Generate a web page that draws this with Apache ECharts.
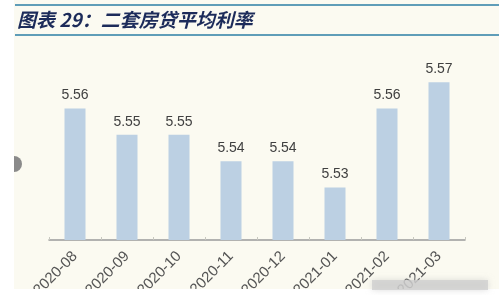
<!DOCTYPE html>
<html>
<head>
<meta charset="utf-8">
<script src="https://cdn.jsdelivr.net/npm/echarts@6/dist/echarts.min.js"></script>
<style>
html,body{margin:0;padding:0;background:#ffffff;}
#c{width:499px;height:295px;}
</style>
</head>
<body>
<div id="c"></div>
<script>
const titleText = '图表 29：二套房贷平均利率';
const categories = ['2020-08','2020-09','2020-10','2020-11','2020-12','2021-01','2021-02','2021-03'];
const rates = [5.56, 5.55, 5.55, 5.54, 5.54, 5.53, 5.56, 5.57];

const chart = echarts.init(document.getElementById('c'), null, {renderer:'canvas'});
chart.setOption({
  animation: false,
  backgroundColor: '#ffffff',
  grid: {left: 49, right: 34, top: 56, bottom: 55, outerBoundsMode: 'none', containLabel: false},
  xAxis: {
    type: 'category',
    data: categories,
    axisLine: {show: true, lineStyle: {color: '#9a9a9a', width: 1.5}},
    axisTick: {show: true, inside: true, length: 3, lineStyle: {color: '#c8c8c0'}},
    axisLabel: {rotate: 45, fontSize: 15, color: '#555555', margin: 14, fontFamily: 'Liberation Sans, Arial, sans-serif'}
  },
  yAxis: {
    type: 'value', min: 5.51, max: 5.58, show: false,
    splitLine: {show: false}
  },
  series: [{
    type: 'bar',
    data: rates,
    barWidth: 21,
    itemStyle: {color: '#bcd0e3'},
    label: {
      show: true, position: 'top', distance: 6,
      fontSize: 14, color: '#404040',
      fontFamily: 'Liberation Sans, Arial, sans-serif',
      formatter: p => p.value.toFixed(2)
    },
    z: 2
  }],
  graphic: [
    {type: 'rect', shape: {x: 14, y: 0, width: 485, height: 289}, style: {fill: '#fbfaf1'}, z: -10, silent: true},
    {type: 'line', shape: {x1: 15, y1: 5, x2: 499, y2: 5}, style: {stroke: '#5f9db8', lineWidth: 2}, z: 5},
    {type: 'line', shape: {x1: 15, y1: 35, x2: 499, y2: 35}, style: {stroke: '#5f9db8', lineWidth: 2}, z: 5},
    {type: 'text', left: 17, top: 10, style: {text: titleText, fill: '#1c2b5a', font: 'italic bold 19px "Noto Sans CJK SC", sans-serif'}, z: 5},
    {type: 'sector', shape: {cx: 14, cy: 164, r: 8, startAngle: -Math.PI/2, endAngle: Math.PI/2}, style: {fill: '#8a8a8a'}, z: 5},
    {type: 'rect', shape: {x: 0, y: 289, width: 499, height: 6}, style: {fill: '#ffffff'}, z: 100},
    {type: 'rect', shape: {x: 372, y: 280, width: 116, height: 10}, style: {fill: 'rgba(205,205,205,0.75)', shadowBlur: 6, shadowColor: 'rgba(200,200,200,0.8)'}, z: 101}
  ]
});
</script>
</body>
</html>
